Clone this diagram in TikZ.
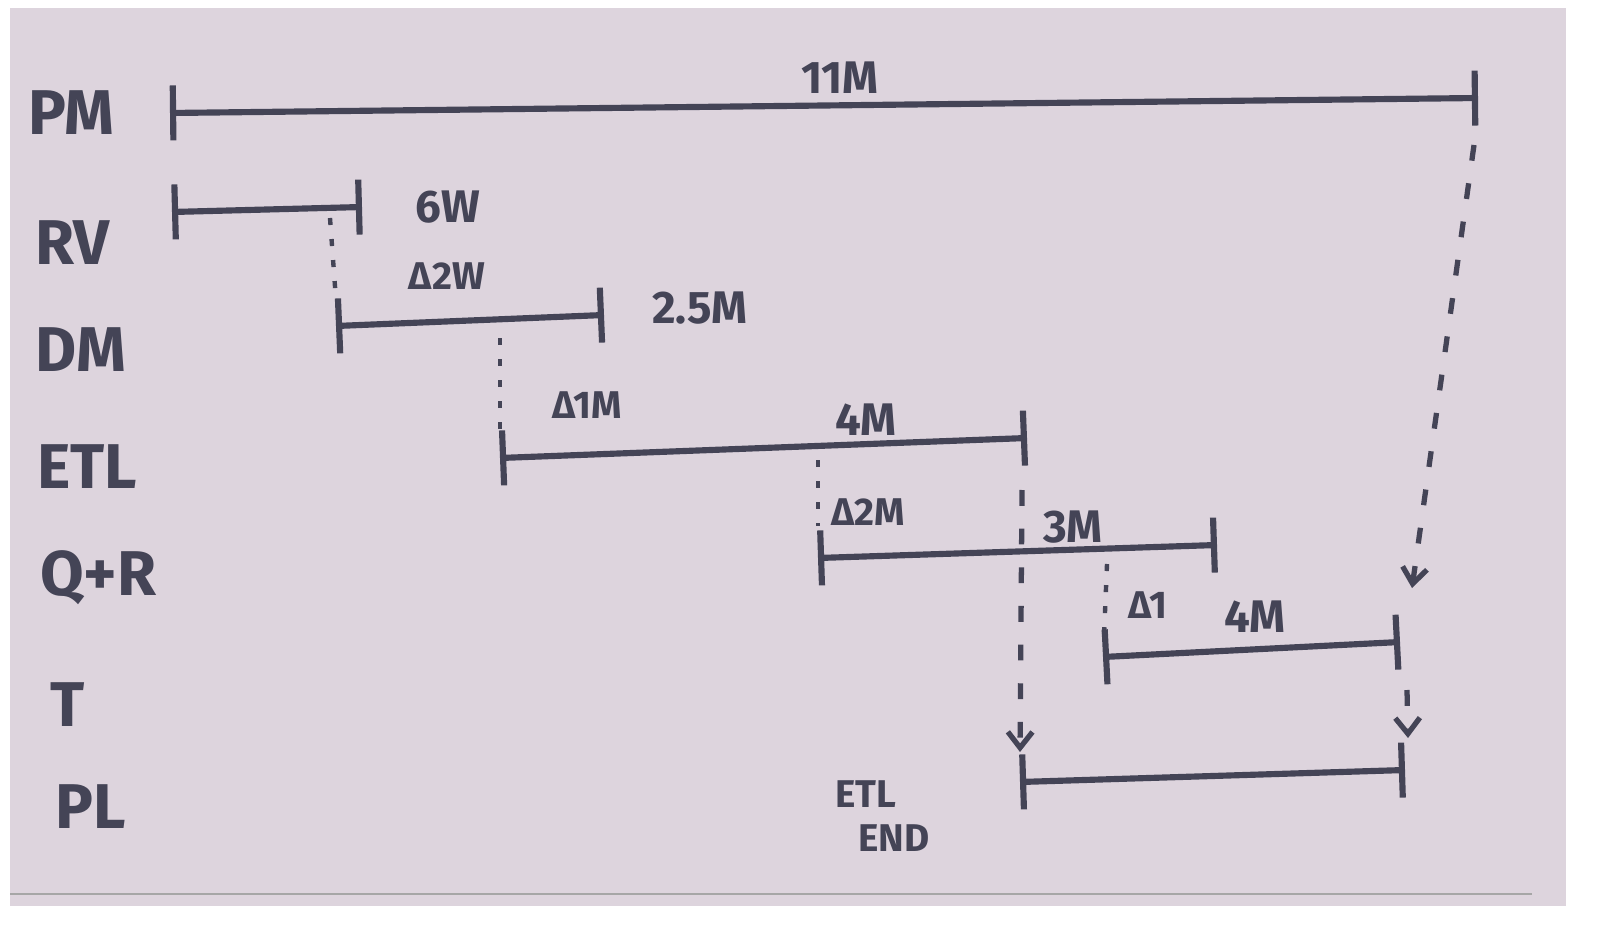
\documentclass[tikz,border=0pt]{standalone}
\usepackage{fontspec}
\setmainfont{Fira Sans}
\usetikzlibrary{arrows.meta, positioning}
\definecolor{ink}{RGB}{68,68,86}
\definecolor{paper}{RGB}{221,212,221}

\tikzset{
    phase/.style={ink, line width=3.5pt, arrows={Bar[width=1.1cm]-Bar[width=1.1cm]}},
    rowlabel/.style={ink, anchor=west, inner sep=0pt, font=\fontsize{36}{38}\selectfont\bfseries},
    dur/.style={ink, inner sep=0pt, font=\fontsize{26}{28}\selectfont\bfseries},
    gaplabel/.style={dur, font=\fontsize{22}{24}\selectfont\bfseries},
    lag/.style={ink, line width=2.5pt, dash pattern=on 4pt off 8pt},
    link/.style={ink, line width=3pt, dash pattern=on 9pt off 13pt, -{Straight Barb[length=9pt,width=14pt]}},
}

\begin{document}
\begin{tikzpicture}[x=0.02cm, y=-0.02cm]
    \useasboundingbox (0,0) rectangle (1602,929);
    \fill[white] (0,0) rectangle (1602,929);
    \fill[paper] (10,8) rectangle (1566,906);
    \draw[gray!70, line width=1pt] (10,894) -- (1532,894);

    % rows
    \node[rowlabel] (pm) at (28,113) {PM};
    \node[rowlabel] (rv) at (35,243) {RV};
    \node[rowlabel] (dm) at (35,350) {DM};
    \node[rowlabel] (etl) at (37,467) {ETL};
    \node[rowlabel] (qr) at (40,578) {Q+R};
    \node[rowlabel] (t) at (50,705) {T};
    \node[rowlabel] (pl) at (55,807) {PL};

    % phase ends
    \coordinate (pmS) at (170,113);  \coordinate (pmE) at (1478,98);
    \coordinate (rvS) at (172,212);  \coordinate (rvE) at (362,207);
    \coordinate (dmS) at (336,326);  \coordinate (dmE) at (604,315);
    \coordinate (etlS) at (500,458); \coordinate (etlE) at (1027,438);
    \coordinate (qrS) at (818,558);  \coordinate (qrE) at (1217,545);
    \coordinate (tS) at (1103,657);  \coordinate (tE) at (1400,642);
    \coordinate (plS) at (1020,782); \coordinate (plE) at (1405,770);

    \draw[phase] (pmS) -- (pmE);
    \draw[phase] (rvS) -- (rvE);
    \draw[phase] (dmS) -- (dmE);
    \draw[phase] (etlS) -- (etlE);
    \draw[phase] (qrS) -- (qrE);
    \draw[phase] (tS) -- (tE);
    \draw[phase] (plS) -- (plE);

    % durations
    \node[dur] (pmLen) at (840,78) {11M};
    \node[dur] (rvLen) at (448,207) {6W};
    \node[dur] (dmLen) at (700,308) {2.5M};
    \node[dur] (etlLen) at (866,420) {4M};
    \node[dur] (qrLen) at (1073,527) {3M};
    \node[dur] (tLen) at (1255,617) {4M};

    % lags
    \coordinate (rvLag) at (330,218);  \coordinate (dmTop) at (336,300);
    \coordinate (dmLag) at (500,338);  \coordinate (etlTop) at (500,432);
    \coordinate (etlLag) at (818,460); \coordinate (qrTop) at (818,526);
    \coordinate (qrLag) at (1107,564); \coordinate (tTop) at (1104,636);
    \draw[lag] (rvLag) -- (dmTop);
    \draw[lag] (dmLag) -- (etlTop);
    \draw[lag] (etlLag) -- (qrTop);
    \draw[lag] (qrLag) -- (tTop);
    \node[gaplabel] (rvGap) at (447,276) {Δ2W};
    \node[gaplabel] (dmGap) at (587,405) {Δ1M};
    \node[gaplabel] (etlGap) at (868,512) {Δ2M};
    \node[gaplabel] (qrGap) at (1148,605) {Δ1};

    % hand-offs into PL
    \coordinate (etlDrop) at (1022,490); \coordinate (plTop) at (1020,752);
    \coordinate (pmDrop) at (1474,145);  \coordinate (tHit) at (1412,588);
    \coordinate (tDrop) at (1407,690);   \coordinate (plEtop) at (1408,738);
    \draw[link] (etlDrop) -- (plTop);
    \draw[link] (pmDrop) -- (tHit);
    \draw[link] (tDrop) -- (plEtop);
    \node[gaplabel, anchor=north west, align=left, font=\fontsize{22}{25}\selectfont\bfseries] (etlEnd) at (835,780) {ETL\\\hspace*{0.6em}END};
\end{tikzpicture}
\end{document}
